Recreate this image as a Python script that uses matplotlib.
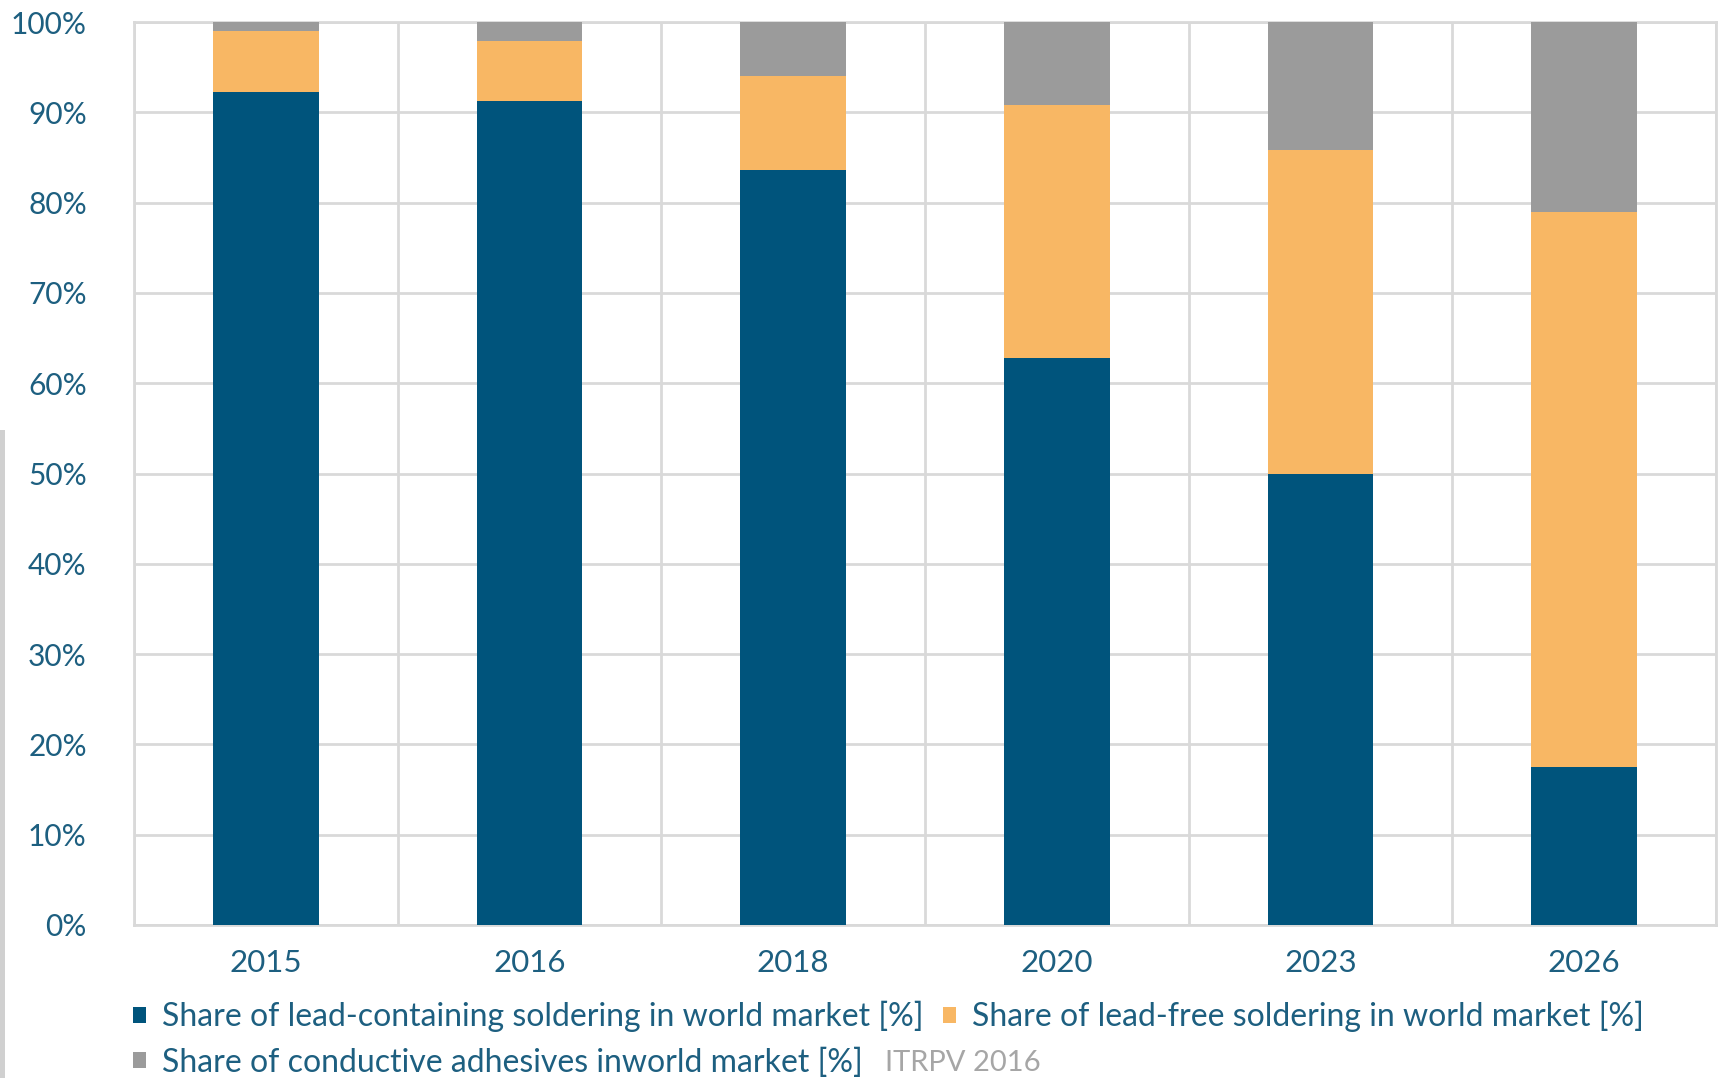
import matplotlib
matplotlib.use("Agg")
import matplotlib.pyplot as plt
from matplotlib.patches import Rectangle
import numpy as np

years = ["2015", "2016", "2018", "2020", "2023", "2026"]
lead_containing = [92.3, 91.2, 83.6, 62.8, 50.0, 17.5]
lead_free = [6.7, 6.7, 10.4, 28.0, 35.8, 61.5]
adhesives = [1.0, 2.1, 6.0, 9.2, 14.2, 21.0]
labels = ["Share of lead-containing soldering in world market [%]",
          "Share of lead-free soldering in world market [%]",
          "Share of conductive adhesives inworld market [%]"]
yticks = [0, 10, 20, 30, 40, 50, 60, 70, 80, 90, 100]

BLUE = "#00547C"
ORANGE = "#F8B764"
GRAY = "#9B9B9B"
TXT = "#1D5F80"

plt.rcParams['font.family'] = ['Lato', 'DejaVu Sans']

W, H = 1721, 1078
fig = plt.figure(figsize=(W/100, H/100), dpi=100)
ax = fig.add_axes([134/W, 1-925/H, (1716-134)/W, (925-22)/H])

x = np.arange(len(years))
lc = np.array(lead_containing)
lf = np.array(lead_free)
ad = np.array(adhesives)
b1 = ax.bar(x, lc, width=0.4, color=BLUE, zorder=3)
b2 = ax.bar(x, lf, bottom=lc, width=0.4, color=ORANGE, zorder=3)
b3 = ax.bar(x, ad, bottom=lc+lf, width=0.4, color=GRAY, zorder=3)

ax.set_xlim(-0.5, len(years)-0.5)
ax.set_ylim(0, 100)
ax.set_yticks(yticks)
ax.set_yticklabels([f"{v}%" for v in yticks])
ax.set_xticks(x)
ax.set_xticklabels(years)
ax.set_xticks(np.arange(-0.5, len(years), 1.0), minor=True)
ax.grid(axis='y', which='major', color='#D9D9D9', linewidth=2, zorder=0)
ax.grid(axis='x', which='minor', color='#D9D9D9', linewidth=2, zorder=0)
ax.grid(axis='x', which='major', visible=False)
for s in ax.spines.values():
    s.set_color('#D9D9D9')
    s.set_linewidth(2)
ax.tick_params(axis='both', which='both', length=0)
ax.tick_params(axis='y', pad=34, labelsize=21.5, labelcolor=TXT)
ax.tick_params(axis='x', pad=17, labelsize=22.5, labelcolor=TXT)

leg = fig.legend([b1, b3, b2], [labels[0], labels[2], labels[1]], ncol=2,
                 loc='upper left',
                 bbox_to_anchor=(133/W, 1-1001/H), frameon=False,
                 fontsize=23, labelcolor=TXT, handlelength=0.42,
                 handleheight=0.42, handletextpad=0.5, columnspacing=0.6,
                 labelspacing=0.47, borderpad=0, borderaxespad=0)
fig.text(885/W, 1-1063/H, "ITRPV 2016", fontsize=21, color="#A6A6A6",
         va='center', ha='left')

fig.patches.append(Rectangle((0, 0), 5/W, 1-430/H, transform=fig.transFigure,
                             facecolor='#D0D0D0', edgecolor='none'))

fig.savefig("out.png", dpi=100)
